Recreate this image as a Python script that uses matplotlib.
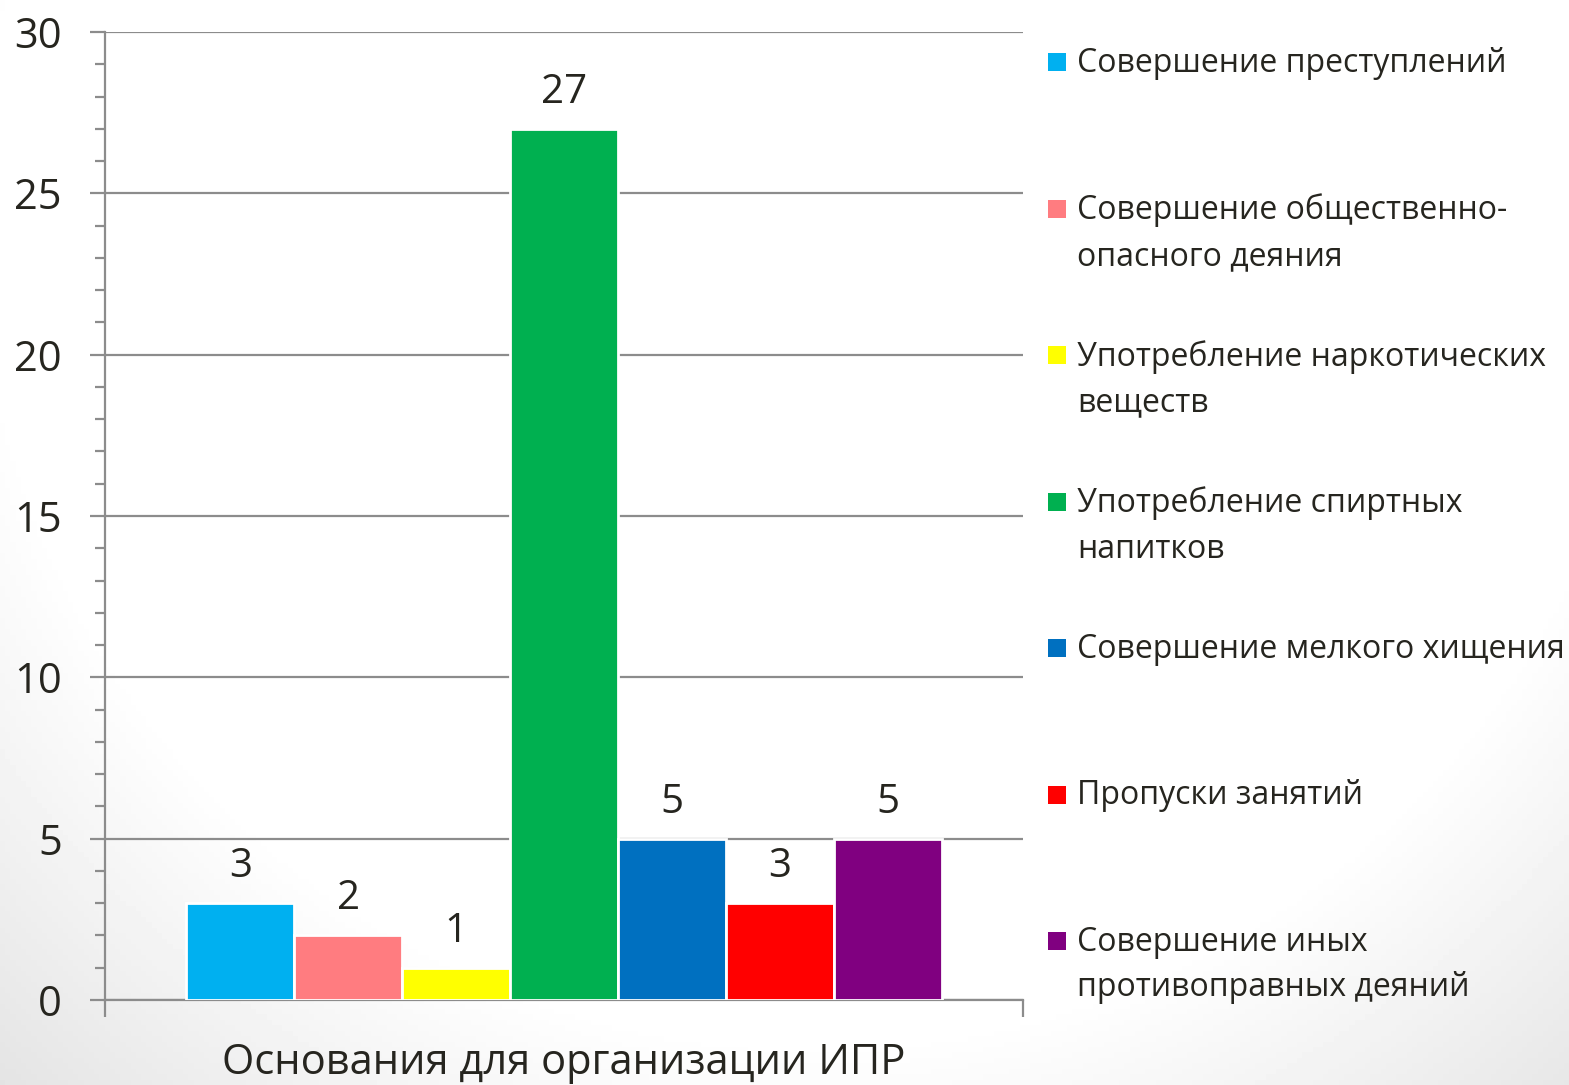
import numpy as np
import matplotlib.pyplot as plt
from matplotlib.patches import Rectangle
from matplotlib.ticker import MultipleLocator

plt.rcParams['font.family'] = ['Open Sans', 'DejaVu Sans']

categories = ['Совершение преступлений',
              'Совершение общественно-\nопасного деяния',
              'Употребление наркотических\nвеществ',
              'Употребление спиртных\nнапитков',
              'Совершение мелкого хищения',
              'Пропуски занятий',
              'Совершение иных\nпротивоправных деяний']
values = [3, 2, 1, 27, 5, 3, 5]
colors = ['#00B0F0', '#FF7C80', '#FFFF00', '#00B050',
          '#0070C0', '#FF0000', '#800080']
xlabel = 'Основания для организации ИПР'

text_color = '#26251f'
grid_color = '#8c8c8c'

fig = plt.figure(figsize=(15.69, 10.85), dpi=100)

# soft grey background like the slide (darker towards bottom-left and right)
bg = fig.add_axes([0, 0, 1, 1], zorder=-10)
yy, xx = np.mgrid[0:1:200j, 0:1:300j]
r = np.sqrt(((xx - 0.52) / 0.66) ** 2 + ((yy - 0.2) / 0.95) ** 2)
shade = np.clip((r - 0.8) * 0.3, 0, 0.12)
bg.imshow(1 - shade, cmap='gray', vmin=0, vmax=1, aspect='auto',
          extent=[0, 1, 0, 1], origin='upper')
bg.axis('off')

ax = fig.add_axes([105 / 1569, 1 - 1000 / 1085, 918 / 1569, 968 / 1085])
ax.patch.set_alpha(0)

n = len(values)
width = 0.1175
offsets = (np.arange(n) - (n - 1) / 2) * width
bars = ax.bar(offsets, values, width, color=colors, edgecolor='white',
              linewidth=2, zorder=3)
for b, v in zip(bars, values):
    ax.text(b.get_x() + b.get_width() / 2, v + 0.5, str(v),
            ha='center', va='bottom', fontsize=29, color=text_color)

ax.set_xlim(-0.5, 0.5)
ax.set_ylim(0, 30)
ax.yaxis.set_major_locator(MultipleLocator(5))
ax.yaxis.set_minor_locator(MultipleLocator(1))
ax.set_xticks([-0.5, 0.5])
ax.set_xticklabels([])
ax.grid(axis='y', which='major', color=grid_color, linewidth=1.6, zorder=0)
ax.set_axisbelow(True)

for s in ['top', 'right']:
    ax.spines[s].set_visible(False)
for s in ['left', 'bottom']:
    ax.spines[s].set_color(grid_color)
    ax.spines[s].set_linewidth(1.6)

ax.tick_params(axis='y', which='major', length=11, width=1.6, color=grid_color,
               labelsize=30, labelcolor=text_color, pad=20)
ax.tick_params(axis='y', which='minor', length=7, width=1.6, color=grid_color)
ax.tick_params(axis='x', length=12, width=1.6, color=grid_color)

ax.set_xlabel(xlabel, fontsize=30, color=text_color, labelpad=15)

# legend entries, evenly spaced down the right side
for i, (lab, c) in enumerate(zip(categories, colors)):
    y_px = 62 + i * 146.5
    fig.add_artist(Rectangle((1048 / 1569, 1 - (y_px + 9) / 1085),
                             18 / 1569, 18 / 1085, facecolor=c,
                             edgecolor='none', transform=fig.transFigure))
    fig.text(1077 / 1569, 1 - (y_px - 15) / 1085, lab, ha='left', va='top',
             fontsize=23, color=text_color, linespacing=1.5)

fig.savefig('out.png', dpi=100)
